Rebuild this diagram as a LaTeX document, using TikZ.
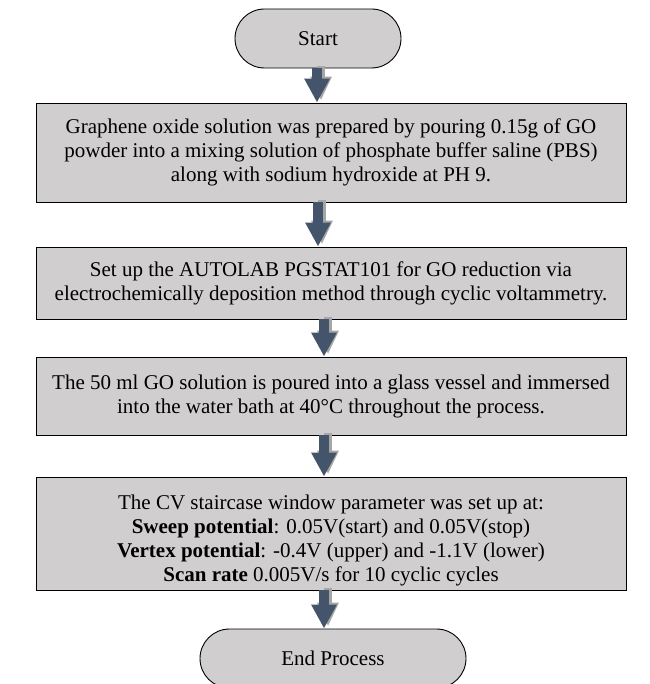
\documentclass[tikz,border=0pt]{standalone}
\usepackage{fontspec}
\setmainfont{Liberation Serif}
\usetikzlibrary{shapes.misc,arrows.meta}
\definecolor{boxfill}{HTML}{D0CECE}
\definecolor{arrowc}{HTML}{44546A}
\definecolor{shadowc}{HTML}{A6A6A6}
\begin{document}
\begin{tikzpicture}[x=1pt,y=-1pt,
  proc/.style={draw=black, line width=0.9pt, fill=boxfill, minimum width=590pt, align=center,
    font=\fontsize{21}{24}\selectfont, inner sep=0pt},
  term/.style={draw=black, line width=0.9pt, fill=boxfill, rounded rectangle, minimum height=59pt,
    font=\fontsize{21}{24}\selectfont, inner sep=0pt},
  flowarrow/.style={draw=arrowc, line width=10pt, -{Triangle[width=24pt,length=24pt]}},
  flowshadow/.style={draw=shadowc, line width=8pt, -{Triangle[width=20pt,length=24pt]}}
]
\useasboundingbox (0,0) rectangle (649,684);
\clip (0,0) rectangle (649,684);
\node[term, minimum width=166pt] (start) at (318,38.5) {Start};
\node[proc, minimum height=99pt] (b1) at (331,152.5) {Graphene oxide solution was prepared by pouring 0.15g of GO\\ powder into a mixing solution of phosphate buffer saline (PBS)\\ along with sodium hydroxide at PH 9.};
\node[proc, minimum height=72pt] (b2) at (331,283) {Set up the AUTOLAB PGSTAT101 for GO reduction via\\ electrochemically deposition method through cyclic voltammetry.};
\node[proc, minimum height=78pt] (b3) at (331,396) {The 50 ml GO solution is poured into a glass vessel and immersed\\ into the water bath at 40°C throughout the process.};
\node[proc, minimum height=113pt] (b4) at (331,533.5) {\rule{0pt}{29pt}The CV staircase window parameter was set up at:\\ \textbf{Sweep potential}: 0.05V(start) and 0.05V(stop)\\ \textbf{Vertex potential}: -0.4V (upper) and -1.1V (lower)\\ \textbf{Scan rate} 0.005V/s for 10 cyclic cycles};
\node[term, minimum width=266pt] (end) at (333,658.5) {End Process};
% connectors: shadow then arrow
\draw[flowshadow, transform canvas={xshift=4pt,yshift=2pt}] ([xshift=-1pt]start.south) -- ([xshift=-14pt]b1.north);
\draw[flowarrow] ([xshift=-1pt]start.south) -- ([xshift=-14pt]b1.north);
\draw[flowshadow, transform canvas={xshift=4pt,yshift=2pt}] ([xshift=-13pt]b1.south) -- ([xshift=-13pt]b2.north);
\draw[flowarrow] ([xshift=-13pt]b1.south) -- ([xshift=-13pt]b2.north);
\draw[flowshadow, transform canvas={xshift=4pt,yshift=2pt}] ([xshift=-7pt]b2.south) -- ([xshift=-7pt]b3.north);
\draw[flowarrow] ([xshift=-7pt]b2.south) -- ([xshift=-7pt]b3.north);
\draw[flowshadow, transform canvas={xshift=4pt,yshift=2pt}] ([xshift=-7pt]b3.south) -- ([xshift=-7pt]b4.north);
\draw[flowarrow] ([xshift=-7pt]b3.south) -- ([xshift=-7pt]b4.north);
\draw[flowshadow, transform canvas={xshift=4pt,yshift=2pt}] ([xshift=-7pt]b4.south) -- ([xshift=-9pt]end.north);
\draw[flowarrow] ([xshift=-7pt]b4.south) -- ([xshift=-9pt]end.north);
\end{tikzpicture}
\end{document}
